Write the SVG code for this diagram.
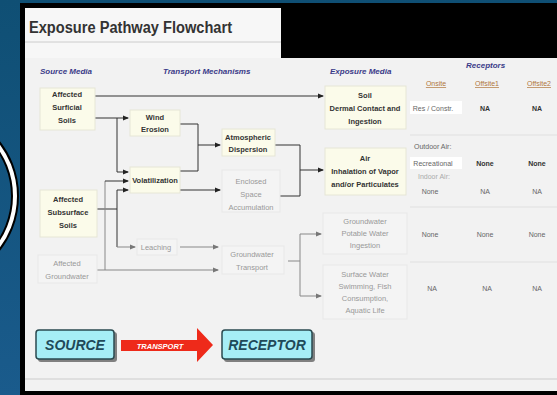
<svg xmlns="http://www.w3.org/2000/svg" width="557" height="395" viewBox="0 0 557 395">
<defs>
<linearGradient id="bg" x1="0" y1="0" x2="0" y2="1">
<stop offset="0" stop-color="#0f4f74"/><stop offset="1" stop-color="#1a5b8c"/>
</linearGradient>
<marker id="ar" markerWidth="6" markerHeight="6" refX="5" refY="3" orient="auto" markerUnits="userSpaceOnUse">
<path d="M0,0.5 L6,3 L0,5.5 z" fill="#222"/>
</marker>
<marker id="ag" markerWidth="6" markerHeight="6" refX="5" refY="3" orient="auto" markerUnits="userSpaceOnUse">
<path d="M0,0.5 L6,3 L0,5.5 z" fill="#777"/>
</marker>
</defs>
<style>
.box{fill:#fbfbea;stroke:#e6e6d6;stroke-width:1}
.gbox{fill:#f4f4f4;stroke:#e8e8e8;stroke-width:1}
.t{font-family:"Liberation Sans",Arial,sans-serif;font-size:7.5px;font-weight:bold;fill:#333;text-anchor:middle}
.g{font-family:"Liberation Sans",Arial,sans-serif;font-size:7.5px;fill:#999;text-anchor:middle}
.hd{font-family:"Liberation Sans",Arial,sans-serif;font-size:8px;font-weight:bold;font-style:italic;fill:#3a3a88}
.sub{font-family:"Liberation Sans",Arial,sans-serif;font-size:7px;fill:#b0763c;text-anchor:middle;text-decoration:underline}
.c{font-family:"Liberation Sans",Arial,sans-serif;font-size:7px;fill:#666;text-anchor:middle}
.cl{font-family:"Liberation Sans",Arial,sans-serif;font-size:7px;fill:#666;text-anchor:start}
.cf{font-family:"Liberation Sans",Arial,sans-serif;font-size:7px;fill:#aaa;text-anchor:start}
.cb{font-family:"Liberation Sans",Arial,sans-serif;font-size:7px;font-weight:bold;fill:#333;text-anchor:middle}
.ln{stroke:#333;stroke-width:1;fill:none}
.lg{stroke:#888;stroke-width:1;fill:none}
.big{font-family:"Liberation Sans",Arial,sans-serif;font-size:14px;font-weight:bold;font-style:italic;fill:#1f4a5a;text-anchor:middle}
.cyan{fill:#a6eef6;stroke:#2a4a50;stroke-width:1.5}
</style>
<rect x="0" y="0" width="557" height="395" fill="url(#bg)"/>
<circle cx="-69" cy="196" r="84" fill="none" stroke="#000" stroke-width="8"/>
<circle cx="-69" cy="196" r="84" fill="none" stroke="#fff" stroke-width="4"/>
<rect x="20" y="3" width="537" height="392" fill="#000"/>
<rect x="25" y="8" width="256" height="52" fill="#f7f7f7"/>
<rect x="25" y="58" width="532" height="333" fill="#f2f2f2"/>
<line x1="25" y1="42" x2="281" y2="42" stroke="#ccc" stroke-width="1"/>
<line x1="25" y1="379" x2="557" y2="379" stroke="#ccc" stroke-width="1"/>
<text x="29" y="33" font-family="Liberation Sans,Arial,sans-serif" font-size="16" font-weight="bold" fill="#333" textLength="203" lengthAdjust="spacingAndGlyphs">Exposure Pathway Flowchart</text>
<text class="hd" x="40" y="74">Source Media</text>
<text class="hd" x="163" y="74">Transport Mechanisms</text>
<text class="hd" x="330" y="74">Exposure Media</text>
<text class="hd" x="466" y="68">Receptors</text>
<text class="sub" x="436" y="86">Onsite</text>
<text class="sub" x="487" y="86">Offsite1</text>
<text class="sub" x="539" y="86">Offsite2</text>
<g id="connectors">
<path class="ln" d="M95,96 H323" marker-end="url(#ar)"/>
<path class="ln" d="M95,118 H128" marker-end="url(#ar)"/>
<path class="ln" d="M117,118 V172 H128" marker-end="url(#ar)"/>
<path class="ln" d="M97,209 H117"/>
<path class="ln" d="M117,190 H128" marker-end="url(#ar)"/>
<path class="ln" d="M117,190 V247"/>
<path class="lg" d="M117,247 H135" marker-end="url(#ag)"/>
<path class="lg" d="M97,270 H218" marker-end="url(#ag)"/>
<path class="lg" d="M105,270 V181"/>
<path class="ln" d="M105,181 H128" marker-end="url(#ar)"/>
<path class="ln" d="M180,124 H198 V171 H180"/>
<path class="ln" d="M198,145 H220" marker-end="url(#ar)"/>
<path class="ln" d="M180,190 H220" marker-end="url(#ar)"/>
<path class="ln" d="M275,145 H300 V196 H272"/>
<path class="ln" d="M300,170 H323" marker-end="url(#ar)"/>
<path class="lg" d="M180,247 H218" marker-end="url(#ag)"/>
<path class="lg" d="M288,261 H300"/>
<path class="lg" d="M300,234 V296"/>
<path class="lg" d="M300,234 H321" marker-end="url(#ag)"/>
<path class="lg" d="M300,296 H321" marker-end="url(#ag)"/>
</g>
<g id="surficial"><rect class="box" x="40" y="88" width="55" height="42"/>
<text class="t" x="67" y="97">Affected</text><text class="t" x="67" y="110">Surficial</text><text class="t" x="67" y="123">Soils</text></g>
<g id="wind"><rect class="box" x="130" y="110" width="50" height="26"/>
<text class="t" x="155" y="120">Wind</text><text class="t" x="155" y="132">Erosion</text></g>
<g id="volat"><rect class="box" x="130" y="167" width="50" height="26"/>
<text class="t" x="155" y="183">Volatilization</text></g>
<g id="atmos"><rect class="box" x="222" y="129" width="53" height="27"/>
<text class="t" x="248" y="140">Atmospheric</text><text class="t" x="248" y="152">Dispersion</text></g>
<g id="enclosed"><rect class="gbox" x="222" y="170" width="58" height="42"/>
<text class="g" x="251" y="184">Enclosed</text><text class="g" x="251" y="197">Space</text><text class="g" x="251" y="210">Accumulation</text></g>
<g id="subsurface"><rect class="box" x="40" y="190" width="57" height="47"/>
<text class="t" x="68" y="202">Affected</text><text class="t" x="68" y="215">Subsurface</text><text class="t" x="68" y="228">Soils</text></g>
<g id="leaching"><rect class="gbox" x="137" y="239" width="40" height="16"/>
<text class="g" x="156" y="250">Leaching</text></g>
<g id="gwtransport"><rect class="gbox" x="222" y="246" width="62" height="28"/>
<text class="g" x="252" y="257">Groundwater</text><text class="g" x="252" y="270">Transport</text></g>
<g id="groundwater"><rect class="gbox" x="38" y="255" width="59" height="28"/>
<text class="g" x="67" y="266">Affected</text><text class="g" x="67" y="279">Groundwater</text></g>
<g id="soil"><rect class="box" x="325" y="86" width="81" height="43"/>
<text class="t" x="365" y="98">Soil</text><text class="t" x="365" y="111">Dermal Contact and</text><text class="t" x="365" y="124">Ingestion</text></g>
<g id="air"><rect class="box" x="325" y="148" width="81" height="47"/>
<text class="t" x="365" y="161">Air</text><text class="t" x="365" y="174">Inhalation of Vapor</text><text class="t" x="365" y="187">and/or Particulates</text></g>
<g id="gwmedia"><rect class="gbox" x="323" y="213" width="84" height="41"/>
<text class="g" x="365" y="224">Groundwater</text><text class="g" x="365" y="236">Potable Water</text><text class="g" x="365" y="248">Ingestion</text></g>
<g id="swmedia"><rect class="gbox" x="323" y="265" width="84" height="54"/>
<text class="g" x="365" y="277">Surface Water</text><text class="g" x="365" y="289">Swimming, Fish</text><text class="g" x="365" y="301">Consumption,</text><text class="g" x="365" y="313">Aquatic Life</text></g>
<g id="table">
<line x1="410" y1="135" x2="557" y2="135" stroke="#e0e0e0"/>
<line x1="410" y1="207" x2="557" y2="207" stroke="#e0e0e0"/>
<line x1="410" y1="262" x2="557" y2="262" stroke="#e0e0e0"/>
<rect x="410" y="101" width="52" height="13" fill="#fff"/>
<text class="c" x="433" y="111">Res / Constr.</text>
<text class="cb" x="485" y="111">NA</text><text class="cb" x="537" y="111">NA</text>
<text class="cl" x="414" y="149">Outdoor Air:</text>
<rect x="410" y="157" width="52" height="12" fill="#fff"/>
<text class="c" x="433" y="166">Recreational</text>
<text class="cb" x="485" y="166">None</text><text class="cb" x="537" y="166">None</text>
<text class="cf" x="418" y="179">Indoor Air:</text>
<text class="c" x="430" y="194">None</text><text class="c" x="485" y="194">NA</text><text class="c" x="537" y="194">NA</text>
<text class="c" x="430" y="237">None</text><text class="c" x="485" y="237">None</text><text class="c" x="537" y="237">None</text>
<text class="c" x="432" y="291">NA</text><text class="c" x="487" y="291">NA</text><text class="c" x="537" y="291">NA</text>
</g>
<g id="legend">
<rect x="38" y="332" width="79" height="30" rx="3" fill="#333" opacity="0.6"/>
<rect class="cyan" x="36" y="330" width="78" height="29" rx="3"/>
<text class="big" x="75" y="350">SOURCE</text>
<path d="M121,340 H197 V328 L213,345 L197,362 V351 H121 z" fill="#ee2a1a"/>
<text x="160" y="349" font-family="Liberation Sans,Arial,sans-serif" font-size="7.5" font-weight="bold" font-style="italic" fill="#fff" text-anchor="middle">TRANSPORT</text>
<rect x="224" y="332" width="91" height="30" rx="3" fill="#333" opacity="0.6"/>
<rect class="cyan" x="222" y="330" width="90" height="29" rx="3"/>
<text class="big" x="267" y="350">RECEPTOR</text>
</g>
</svg>
